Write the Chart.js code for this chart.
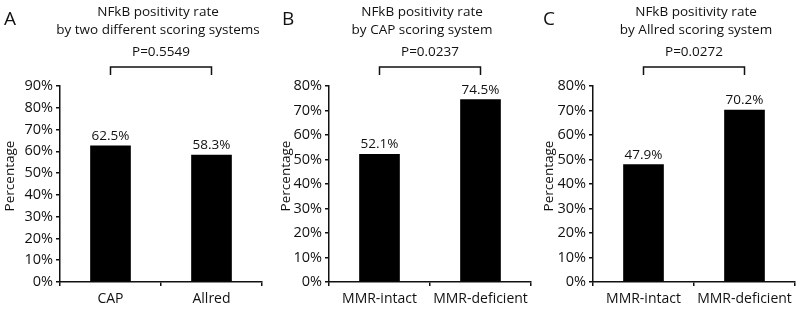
<!DOCTYPE html>
<html lang="en">
<head>
    <meta charset="UTF-8">
    <title>NFkB positivity rate</title>
    <script src="https://cdn.jsdelivr.net/npm/chart.js"></script>
    <style>
        body {
            margin: 0;
            padding: 0;
            background: #fff;
            width: 800px;
            height: 312px;
            overflow: hidden;
            position: relative;
        }
        .panel {
            position: absolute;
            top: 0;
            height: 312px;
        }
    </style>
</head>
<body>
    <div class="panel" id="pA" style="left:0px;width:266px"><canvas id="chartA"></canvas></div>
    <div class="panel" id="pB" style="left:268px;width:266px"><canvas id="chartB"></canvas></div>
    <div class="panel" id="pC" style="left:534px;width:266px"><canvas id="chartC"></canvas></div>

    <script>
        // data
        const letters = ['A', 'B', 'C'];
        const titleLine1 = ['NFkB positivity rate', 'NFkB positivity rate', 'NFkB positivity rate'];
        const titleLine2 = ['by two different scoring systems', 'by CAP scoring system', 'by Allred scoring system'];
        const pValues = ['P=0.5549', 'P=0.0237', 'P=0.0272'];
        const categoriesA = ['CAP', 'Allred'];
        const categoriesB = ['MMR-intact', 'MMR-deficient'];
        const categoriesC = ['MMR-intact', 'MMR-deficient'];
        const valuesA = [62.5, 58.3];
        const valuesB = [52.1, 74.5];
        const valuesC = [47.9, 70.2];
        const yMax = [90, 80, 80];
        const yTitle = 'Percentage';

        const FONT = "'Open Sans', sans-serif";
        const INK = '#111';

        // per panel layout (canvas coords)
        const layout = [
            { axisX: 60, padRight: 4, titleShift: -3, yTitleX: 10, letterX: 4 },
            { axisX: 61, padRight: 3, titleShift: -8, yTitleX: 18, letterX: 14 },
            { axisX: 59, padRight: 5, titleShift: 2, yTitleX: 15, letterX: 9 }
        ];

        const annotate = {
            id: 'annotate',
            afterDraw(chart, args, opts) {
                const ctx = chart.ctx;
                const area = chart.chartArea;
                const x = chart.scales.x;
                const L = opts.layout;
                const cx = (area.left + area.right) / 2 + L.titleShift;
                ctx.save();
                ctx.fillStyle = INK;
                ctx.strokeStyle = INK;

                ctx.font = '19px ' + FONT;
                ctx.textAlign = 'left';
                ctx.textBaseline = 'middle';
                ctx.fillText(opts.letter, L.letterX, 20);

                ctx.font = '13.5px ' + FONT;
                ctx.textAlign = 'center';
                ctx.fillText(opts.line1, cx, 12);
                ctx.fillText(opts.line2, cx, 30);
                ctx.fillText(opts.p, (area.left + area.right) / 2, 52);

                // bracket
                const x0 = x.getPixelForValue(0);
                const x1 = x.getPixelForValue(1);
                ctx.lineWidth = 1.5;
                ctx.beginPath();
                ctx.moveTo(x0, 75);
                ctx.lineTo(x0, 67);
                ctx.lineTo(x1, 67);
                ctx.lineTo(x1, 75);
                ctx.stroke();

                // value labels
                ctx.font = '13.5px ' + FONT;
                ctx.textBaseline = 'bottom';
                const meta = chart.getDatasetMeta(0);
                chart.data.datasets[0].data.forEach((v, i) => {
                    const bar = meta.data[i];
                    ctx.fillText(v.toFixed(1) + '%', bar.x, bar.y - 3);
                });

                // y title
                ctx.translate(L.yTitleX, 176);
                ctx.rotate(-Math.PI / 2);
                ctx.textBaseline = 'middle';
                ctx.fillText(yTitle, 0, 0);
                ctx.restore();
            }
        };

        function makeChart(id, idx, labels, values) {
            const L = layout[idx];
            return new Chart(document.getElementById(id), {
                type: 'bar',
                data: {
                    labels: labels,
                    datasets: [{
                        data: values,
                        backgroundColor: '#000',
                        borderWidth: 0,
                        barThickness: 40
                    }]
                },
                options: {
                    responsive: true,
                    maintainAspectRatio: false,
                    animation: false,
                    events: [],
                    layout: { padding: { top: 86, right: L.padRight, left: 0, bottom: 0 } },
                    plugins: {
                        legend: { display: false },
                        tooltip: { enabled: false },
                        annotate: {
                            layout: L,
                            letter: letters[idx],
                            line1: titleLine1[idx],
                            line2: titleLine2[idx],
                            p: pValues[idx]
                        }
                    },
                    scales: {
                        x: {
                            offset: true,
                            grid: { offset: true, drawOnChartArea: false, tickLength: 4, color: INK, lineWidth: 1.5 },
                            border: { color: INK, width: 1.5 },
                            ticks: { color: INK, font: { family: FONT, size: 14 }, padding: 5, maxRotation: 0 },
                            afterFit(s) { s.height = 30; }
                        },
                        y: {
                            min: 0,
                            max: yMax[idx],
                            ticks: {
                                stepSize: 10,
                                color: INK,
                                padding: 3,
                                font: { family: FONT, size: 14.5 },
                                callback: v => v + '%'
                            },
                            grid: { drawOnChartArea: false, tickLength: 4, color: INK, lineWidth: 1.5 },
                            border: { color: INK, width: 1.5 },
                            afterFit(s) { s.width = L.axisX; }
                        }
                    }
                },
                plugins: [annotate]
            });
        }

        makeChart('chartA', 0, categoriesA, valuesA);
        makeChart('chartB', 1, categoriesB, valuesB);
        makeChart('chartC', 2, categoriesC, valuesC);
    </script>
</body>
</html>
